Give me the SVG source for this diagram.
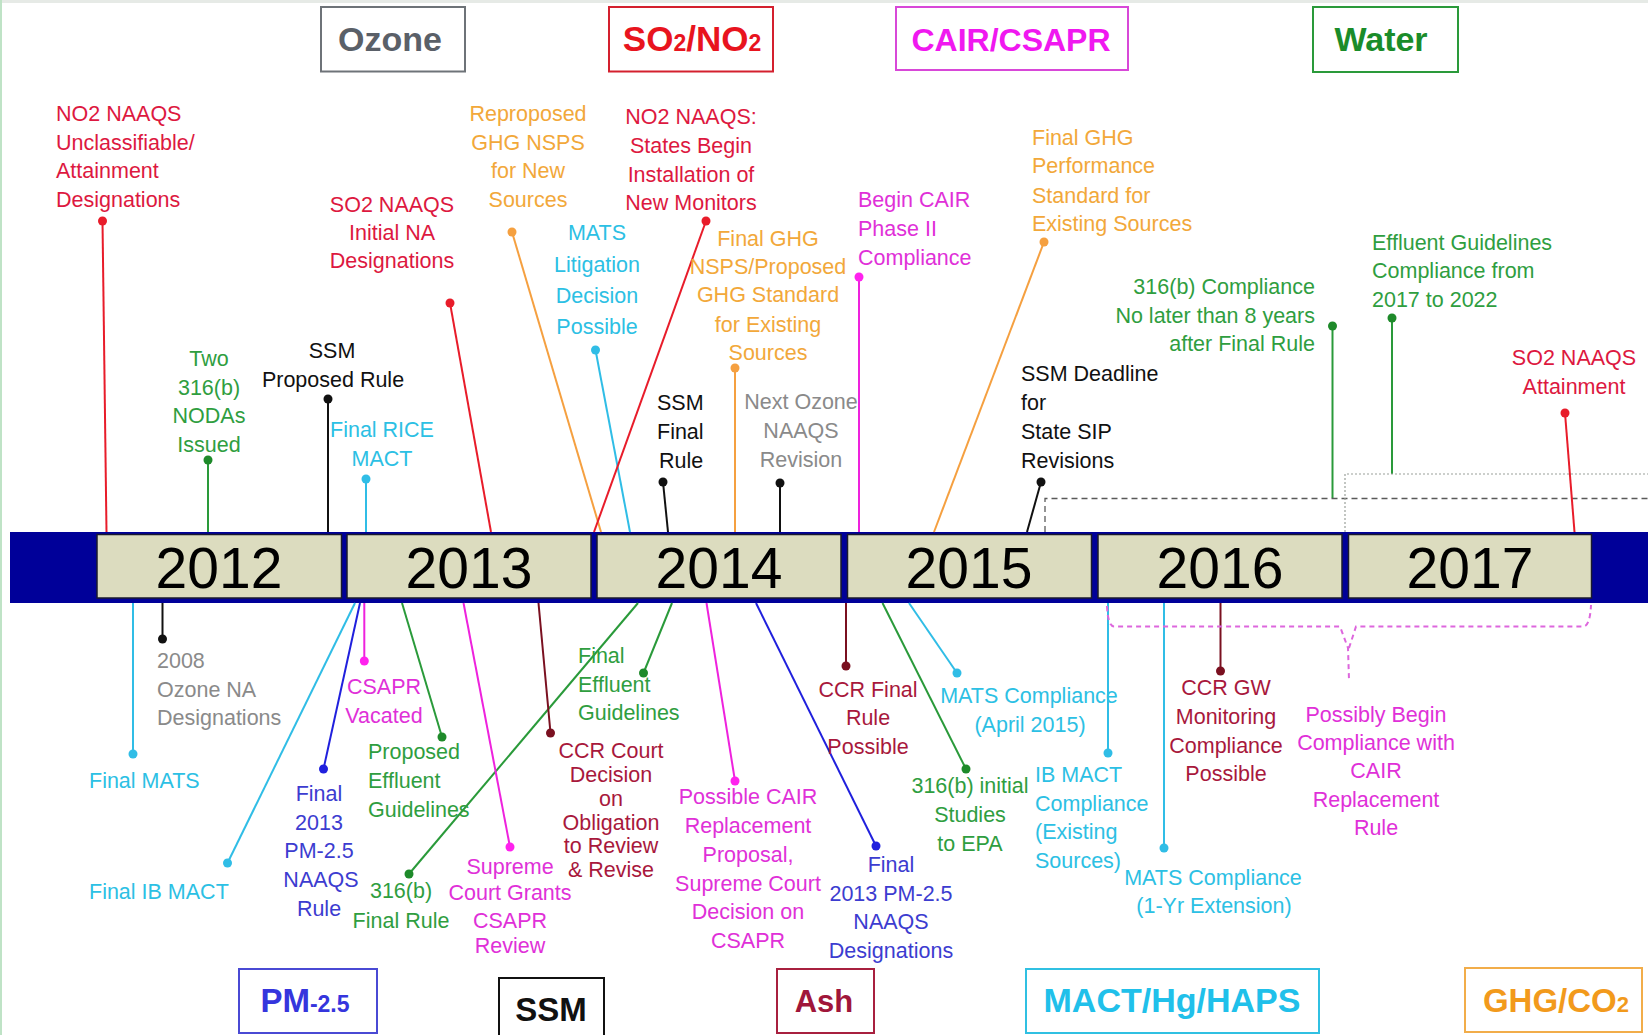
<svg xmlns="http://www.w3.org/2000/svg" width="1648" height="1035" viewBox="0 0 1648 1035">
<defs>
<style>
.t{font-family:"Liberation Sans",Arial,sans-serif;font-size:21.5px}
.m{text-anchor:middle}
.e{text-anchor:end}
.cat{font-family:"Liberation Sans",Arial,sans-serif;font-weight:bold;text-anchor:middle}
.catbox{fill:#fff;stroke-width:2}
.yr{font-family:"Liberation Sans",Arial,sans-serif;font-size:57px;text-anchor:middle;fill:#000}
.ybox{fill:#dcdcbf;stroke:#1a1a2e;stroke-width:1.5}
.ln{stroke-width:2;fill:none}
.red{fill:#dd1840}.grn{fill:#2f9e3f}.cya{fill:#2cc0e4}.mag{fill:#e030d8}.org{fill:#f2a83a}.blu{fill:#3c3cd0}.drd{fill:#a8183c}.gry{fill:#8a8a8a}.blk{fill:#111}
.lr{stroke:#e81c2a}.lg{stroke:#2a9a3a}.lc{stroke:#30bde6}.lm{stroke:#ee22dd}.lo{stroke:#f5a040}.lb{stroke:#2020dd}.ld{stroke:#7a1020}.lk{stroke:#111}
.dr{fill:#e81c2a}.dg{fill:#1e8a2a}.dc{fill:#30bde6}.dm{fill:#ff22ee}.do{fill:#f5a040}.db{fill:#2020dd}.dd{fill:#7a1020}.dk{fill:#111}
</style>
</defs>
<rect x="0" y="0" width="1648" height="1035" fill="#fff"/>
<rect x="0" y="0" width="1648" height="3" fill="#e6eae6"/>
<rect x="0" y="0" width="2" height="1035" fill="#bfe3c6"/>

<!-- Timeline bar -->
<g id="timeline">
<rect x="10" y="532" width="1638" height="71" fill="#000099"/>
<rect class="ybox" x="97" y="534.5" width="244.5" height="63.5"/>
<rect class="ybox" x="347" y="534.5" width="244" height="63.5"/>
<rect class="ybox" x="597" y="534.5" width="244" height="63.5"/>
<rect class="ybox" x="847.5" y="534.5" width="244" height="63.5"/>
<rect class="ybox" x="1098" y="534.5" width="244" height="63.5"/>
<rect class="ybox" x="1348.5" y="534.5" width="243" height="63.5"/>
<text class="yr" x="219" y="588">2012</text>
<text class="yr" x="469" y="588">2013</text>
<text class="yr" x="719" y="588">2014</text>
<text class="yr" x="969" y="588">2015</text>
<text class="yr" x="1220" y="588">2016</text>
<text class="yr" x="1470" y="588">2017</text>
</g>

<!-- Category boxes -->
<g id="cat-ozone"><rect class="catbox" x="321" y="7" width="144" height="64.5" stroke="#6e7378"/><text class="cat" x="390" y="51" font-size="34" fill="#5a6068">Ozone</text></g>
<g id="cat-so2no2"><rect class="catbox" x="609" y="7" width="164" height="64.5" stroke="#d4202e"/><text class="cat" x="692" y="51" font-size="35" fill="#e8141e">SO<tspan font-size="23">2</tspan>/NO<tspan font-size="23">2</tspan></text></g>
<g id="cat-cair"><rect class="catbox" x="896" y="7" width="232" height="63" stroke="#d848d8"/><text class="cat" x="1011" y="51" font-size="32" fill="#f018f0">CAIR/CSAPR</text></g>
<g id="cat-water"><rect class="catbox" x="1313" y="7" width="145" height="65" stroke="#2a9a3a"/><text class="cat" x="1381" y="51" font-size="34" fill="#1a8c2a">Water</text></g>
<g id="cat-pm"><rect class="catbox" x="239" y="969" width="138" height="64" stroke="#4a4ad4"/><text class="cat" x="305" y="1012" font-size="33" fill="#3535dd">PM<tspan font-size="23">-2.5</tspan></text></g>
<g id="cat-ssm"><rect class="catbox" x="499" y="978" width="105" height="60" stroke="#111"/><text class="cat" x="551" y="1021" font-size="33" fill="#111">SSM</text></g>
<g id="cat-ash"><rect class="catbox" x="777" y="969" width="97" height="64" stroke="#a8203f"/><text class="cat" x="824" y="1012" font-size="31" fill="#a0163a">Ash</text></g>
<g id="cat-mact"><rect class="catbox" x="1026" y="969" width="293" height="64" stroke="#30c0e2"/><text class="cat" x="1172" y="1012" font-size="34" fill="#20c0ea">MACT/Hg/HAPS</text></g>
<g id="cat-ghg"><rect class="catbox" x="1465" y="968" width="177" height="64" stroke="#f2ad4a"/><text class="cat" x="1556" y="1012" font-size="33" fill="#f29a1c">GHG/CO<tspan font-size="22">2</tspan></text></g>

<!-- Connectors -->
<g id="connectors">
<line class="ln lr" x1="102.5" y1="221" x2="106.5" y2="532"/>
<line class="ln lg" x1="208" y1="460" x2="208" y2="532"/>
<line class="ln lk" x1="328" y1="399" x2="328" y2="532"/>
<line class="ln lc" x1="366" y1="479" x2="366" y2="532"/>
<line class="ln lr" x1="450" y1="303" x2="491" y2="532"/>
<line class="ln lo" x1="512" y1="232" x2="601" y2="532"/>
<line class="ln lc" x1="595.5" y1="350" x2="630" y2="532"/>
<line class="ln lr" x1="706" y1="221" x2="594" y2="532"/>
<line class="ln lo" x1="735" y1="368" x2="735" y2="532"/>
<line class="ln lk" x1="663" y1="482" x2="668" y2="532"/>
<line class="ln lk" x1="780" y1="483" x2="780" y2="532"/>
<line class="ln lm" x1="859" y1="277" x2="859" y2="532"/>
<line class="ln lo" x1="1044" y1="242" x2="934" y2="532"/>
<line class="ln lk" x1="1041" y1="482" x2="1027" y2="532"/>
<line class="ln lg" x1="1332.5" y1="326" x2="1332.5" y2="498"/>
<path d="M1045 532 V498.5 H1648" fill="none" stroke="#5a5a5a" stroke-width="1.3" stroke-dasharray="6,4"/>
<line class="ln lg" x1="1392" y1="318" x2="1392" y2="474"/>
<path d="M1345 532 V474 H1648" fill="none" stroke="#9aa09a" stroke-width="1.2" stroke-dasharray="2,2"/>
<line class="ln lr" x1="1565" y1="413" x2="1574.5" y2="532"/>

<line class="ln lc" x1="133" y1="603" x2="133" y2="754"/>
<line class="ln lk" x1="162.5" y1="603" x2="162.5" y2="639"/>
<line class="ln lc" x1="355" y1="603" x2="227.5" y2="863"/>
<line class="ln lm" x1="364.3" y1="603" x2="364.3" y2="661"/>
<line class="ln lb" x1="360" y1="603" x2="323.5" y2="769"/>
<line class="ln lg" x1="402" y1="603" x2="442" y2="737"/>
<line class="ln lg" x1="638" y1="603" x2="409" y2="874"/>
<line class="ln lm" x1="463.5" y1="603" x2="510" y2="847"/>
<line class="ln ld" x1="538.5" y1="603" x2="550.5" y2="733"/>
<line class="ln lg" x1="672" y1="603" x2="643.5" y2="673"/>
<line class="ln lm" x1="706.5" y1="603" x2="735" y2="781"/>
<line class="ln lb" x1="756" y1="603" x2="876" y2="846"/>
<line class="ln ld" x1="846" y1="603" x2="846" y2="666"/>
<line class="ln lc" x1="909" y1="603" x2="957" y2="673"/>
<line class="ln lg" x1="882.5" y1="603" x2="966" y2="769"/>
<line class="ln lc" x1="1108" y1="603" x2="1108" y2="753"/>
<line class="ln lc" x1="1164" y1="603" x2="1164" y2="848"/>
<line class="ln ld" x1="1220.5" y1="603" x2="1220.5" y2="671"/>
<path d="M1107 606 Q1108 626.5 1114 626.5 H1340 L1348 648 L1349 680 M1349 648 L1356 626.5 H1583 Q1590 626.5 1591 605" fill="none" stroke="#dd66dd" stroke-width="2" stroke-dasharray="5,4"/>

<circle class="dr" cx="102.5" cy="221" r="4.5"/>
<circle class="dg" cx="208" cy="460" r="4.5"/>
<circle class="dk" cx="328" cy="399" r="4.5"/>
<circle class="dc" cx="366" cy="479" r="4.5"/>
<circle class="dr" cx="450" cy="303" r="4.5"/>
<circle class="do" cx="512" cy="232" r="4.5"/>
<circle class="dc" cx="595.5" cy="350" r="4.5"/>
<circle class="dr" cx="706" cy="221" r="4.5"/>
<circle class="do" cx="735" cy="368" r="4.5"/>
<circle class="dk" cx="663" cy="482" r="4.5"/>
<circle class="dk" cx="780" cy="483" r="4.5"/>
<circle class="dm" cx="859" cy="277" r="4.5"/>
<circle class="do" cx="1044" cy="242" r="4.5"/>
<circle class="dk" cx="1041" cy="482" r="4.5"/>
<circle class="dg" cx="1332.5" cy="326" r="4.5"/>
<circle class="dg" cx="1392" cy="318" r="4.5"/>
<circle class="dr" cx="1565" cy="413" r="4.5"/>
<circle class="dc" cx="133" cy="754" r="4.5"/>
<circle class="dk" cx="162.5" cy="639" r="4.5"/>
<circle class="dc" cx="227.5" cy="863" r="4.5"/>
<circle class="dm" cx="364.3" cy="661" r="4.5"/>
<circle class="db" cx="323.5" cy="769" r="4.5"/>
<circle class="dg" cx="442" cy="737" r="4.5"/>
<circle class="dg" cx="409" cy="874" r="4.5"/>
<circle class="dm" cx="510" cy="847" r="4.5"/>
<circle class="dd" cx="550.5" cy="733" r="4.5"/>
<circle class="dg" cx="643.5" cy="673" r="4.5"/>
<circle class="dm" cx="735" cy="781" r="4.5"/>
<circle class="db" cx="876" cy="846" r="4.5"/>
<circle class="dd" cx="846" cy="666" r="4.5"/>
<circle class="dc" cx="957" cy="673" r="4.5"/>
<circle class="dg" cx="966" cy="769" r="4.5"/>
<circle class="dc" cx="1108" cy="753" r="4.5"/>
<circle class="dc" cx="1164" cy="848" r="4.5"/>
<circle class="dd" cx="1220.5" cy="671" r="4.5"/>
</g>

<!-- Labels above -->
<g id="n-no2-unclass"><text class="t red" x="56"><tspan x="56" y="121">NO2 NAAQS</tspan><tspan x="56" y="150">Unclassifiable/</tspan><tspan x="56" y="178">Attainment</tspan><tspan x="56" y="207">Designations</tspan></text></g>
<g id="n-two316b"><text class="t m grn"><tspan x="209" y="366">Two</tspan><tspan x="209" y="395">316(b)</tspan><tspan x="209" y="423">NODAs</tspan><tspan x="209" y="452">Issued</tspan></text></g>
<g id="n-ssm-prop"><text class="t m blk"><tspan x="332" y="358">SSM</tspan><tspan x="333" y="387">Proposed Rule</tspan></text></g>
<g id="n-rice"><text class="t m cya"><tspan x="382" y="437">Final RICE</tspan><tspan x="382" y="466">MACT</tspan></text></g>
<g id="n-so2-initial"><text class="t m red"><tspan x="392" y="212">SO2 NAAQS</tspan><tspan x="392" y="240">Initial NA</tspan><tspan x="392" y="268">Designations</tspan></text></g>
<g id="n-repro-ghg"><text class="t m org"><tspan x="528" y="121">Reproposed</tspan><tspan x="528" y="150">GHG NSPS</tspan><tspan x="528" y="178">for New</tspan><tspan x="528" y="207">Sources</tspan></text></g>
<g id="n-mats-lit"><text class="t m cya"><tspan x="597" y="240">MATS</tspan><tspan x="597" y="272">Litigation</tspan><tspan x="597" y="303">Decision</tspan><tspan x="597" y="334">Possible</tspan></text></g>
<g id="n-no2-monitors"><text class="t m red"><tspan x="691" y="124">NO2 NAAQS:</tspan><tspan x="691" y="153">States  Begin</tspan><tspan x="691" y="182">Installation of</tspan><tspan x="691" y="210">New Monitors</tspan></text></g>
<g id="n-final-ghg-nsps"><text class="t m org"><tspan x="768" y="246">Final GHG</tspan><tspan x="768" y="274">NSPS/Proposed</tspan><tspan x="768" y="302">GHG Standard</tspan><tspan x="768" y="332">for Existing</tspan><tspan x="768" y="360">Sources</tspan></text></g>
<g id="n-ssm-final"><text class="t blk"><tspan x="657" y="410">SSM</tspan><tspan x="657" y="439">Final</tspan><tspan x="659" y="468">Rule</tspan></text></g>
<g id="n-next-ozone"><text class="t m gry"><tspan x="801" y="409">Next Ozone</tspan><tspan x="801" y="438">NAAQS</tspan><tspan x="801" y="467">Revision</tspan></text></g>
<g id="n-cair-ph2"><text class="t mag"><tspan x="858" y="207">Begin CAIR</tspan><tspan x="858" y="236">Phase II</tspan><tspan x="858" y="265">Compliance</tspan></text></g>
<g id="n-final-ghg-perf"><text class="t org"><tspan x="1032" y="145">Final GHG</tspan><tspan x="1032" y="173">Performance</tspan><tspan x="1032" y="203">Standard for</tspan><tspan x="1032" y="231">Existing Sources</tspan></text></g>
<g id="n-ssm-deadline"><text class="t blk"><tspan x="1021" y="381">SSM Deadline</tspan><tspan x="1021" y="410">for</tspan><tspan x="1021" y="439">State SIP</tspan><tspan x="1021" y="468">Revisions</tspan></text></g>
<g id="n-316b-comp"><text class="t e grn"><tspan x="1315" y="294">316(b) Compliance</tspan><tspan x="1315" y="323">No later than 8 years</tspan><tspan x="1315" y="351">after Final Rule</tspan></text></g>
<g id="n-effluent-comp"><text class="t grn"><tspan x="1372" y="250">Effluent Guidelines</tspan><tspan x="1372" y="278">Compliance from</tspan><tspan x="1372" y="307">2017 to 2022</tspan></text></g>
<g id="n-so2-attain"><text class="t m red"><tspan x="1574" y="365">SO2 NAAQS</tspan><tspan x="1574" y="394">Attainment</tspan></text></g>

<!-- Labels below -->
<g id="n-final-mats"><text class="t cya" x="89" y="788">Final MATS</text></g>
<g id="n-2008-ozone"><text class="t gry"><tspan x="157" y="668">2008</tspan><tspan x="157" y="697">Ozone NA</tspan><tspan x="157" y="725">Designations</tspan></text></g>
<g id="n-final-ib"><text class="t cya" x="89" y="899">Final IB MACT</text></g>
<g id="n-csapr-vac"><text class="t m mag"><tspan x="384" y="694">CSAPR</tspan><tspan x="384" y="723">Vacated</tspan></text></g>
<g id="n-pm-rule"><text class="t m blu"><tspan x="319" y="801">Final</tspan><tspan x="319" y="830">2013</tspan><tspan x="319" y="858">PM-2.5</tspan><tspan x="321" y="887">NAAQS</tspan><tspan x="319" y="916">Rule</tspan></text></g>
<g id="n-prop-effluent"><text class="t grn"><tspan x="368" y="759">Proposed</tspan><tspan x="368" y="788">Effluent</tspan><tspan x="368" y="817">Guidelines</tspan></text></g>
<g id="n-316b-final"><text class="t m grn"><tspan x="401" y="898">316(b)</tspan><tspan x="401" y="928">Final Rule</tspan></text></g>
<g id="n-supreme-grants"><text class="t m mag"><tspan x="510" y="874">Supreme</tspan><tspan x="510" y="900">Court Grants</tspan><tspan x="510" y="928">CSAPR</tspan><tspan x="510" y="953">Review</tspan></text></g>
<g id="n-ccr-court"><text class="t m drd"><tspan x="611" y="758">CCR Court</tspan><tspan x="611" y="782">Decision</tspan><tspan x="611" y="806">on</tspan><tspan x="611" y="830">Obligation</tspan><tspan x="611" y="853">to Review</tspan><tspan x="611" y="877">&amp; Revise</tspan></text></g>
<g id="n-final-effluent"><text class="t grn"><tspan x="578" y="663">Final</tspan><tspan x="578" y="692">Effluent</tspan><tspan x="578" y="720">Guidelines</tspan></text></g>
<g id="n-cair-repl-prop"><text class="t m mag"><tspan x="748" y="804">Possible CAIR</tspan><tspan x="748" y="833">Replacement</tspan><tspan x="748" y="862">Proposal,</tspan><tspan x="748" y="891">Supreme Court</tspan><tspan x="748" y="919">Decision on</tspan><tspan x="748" y="948">CSAPR</tspan></text></g>
<g id="n-pm-desig"><text class="t m blu"><tspan x="891" y="872">Final</tspan><tspan x="891" y="901">2013 PM-2.5</tspan><tspan x="891" y="929">NAAQS</tspan><tspan x="891" y="958">Designations</tspan></text></g>
<g id="n-ccr-final"><text class="t m drd"><tspan x="868" y="697">CCR Final</tspan><tspan x="868" y="725">Rule</tspan><tspan x="868" y="754">Possible</tspan></text></g>
<g id="n-mats-april"><text class="t m cya"><tspan x="1029" y="703">MATS Compliance</tspan><tspan x="1030" y="732">(April 2015)</tspan></text></g>
<g id="n-316b-studies"><text class="t m grn"><tspan x="970" y="793">316(b) initial</tspan><tspan x="970" y="822">Studies</tspan><tspan x="970" y="851">to EPA</tspan></text></g>
<g id="n-ib-comp"><text class="t cya"><tspan x="1035" y="782">IB MACT</tspan><tspan x="1035" y="811">Compliance</tspan><tspan x="1035" y="839">(Existing</tspan><tspan x="1035" y="868">Sources)</tspan></text></g>
<g id="n-mats-ext"><text class="t m cya"><tspan x="1213" y="885">MATS Compliance</tspan><tspan x="1214" y="913">(1-Yr Extension)</tspan></text></g>
<g id="n-ccr-gw"><text class="t m drd"><tspan x="1226" y="695">CCR GW</tspan><tspan x="1226" y="724">Monitoring</tspan><tspan x="1226" y="753">Compliance</tspan><tspan x="1226" y="781">Possible</tspan></text></g>
<g id="n-cair-repl-rule"><text class="t m mag"><tspan x="1376" y="722">Possibly Begin</tspan><tspan x="1376" y="750">Compliance with</tspan><tspan x="1376" y="778">CAIR</tspan><tspan x="1376" y="807">Replacement</tspan><tspan x="1376" y="835">Rule</tspan></text></g>
</svg>
